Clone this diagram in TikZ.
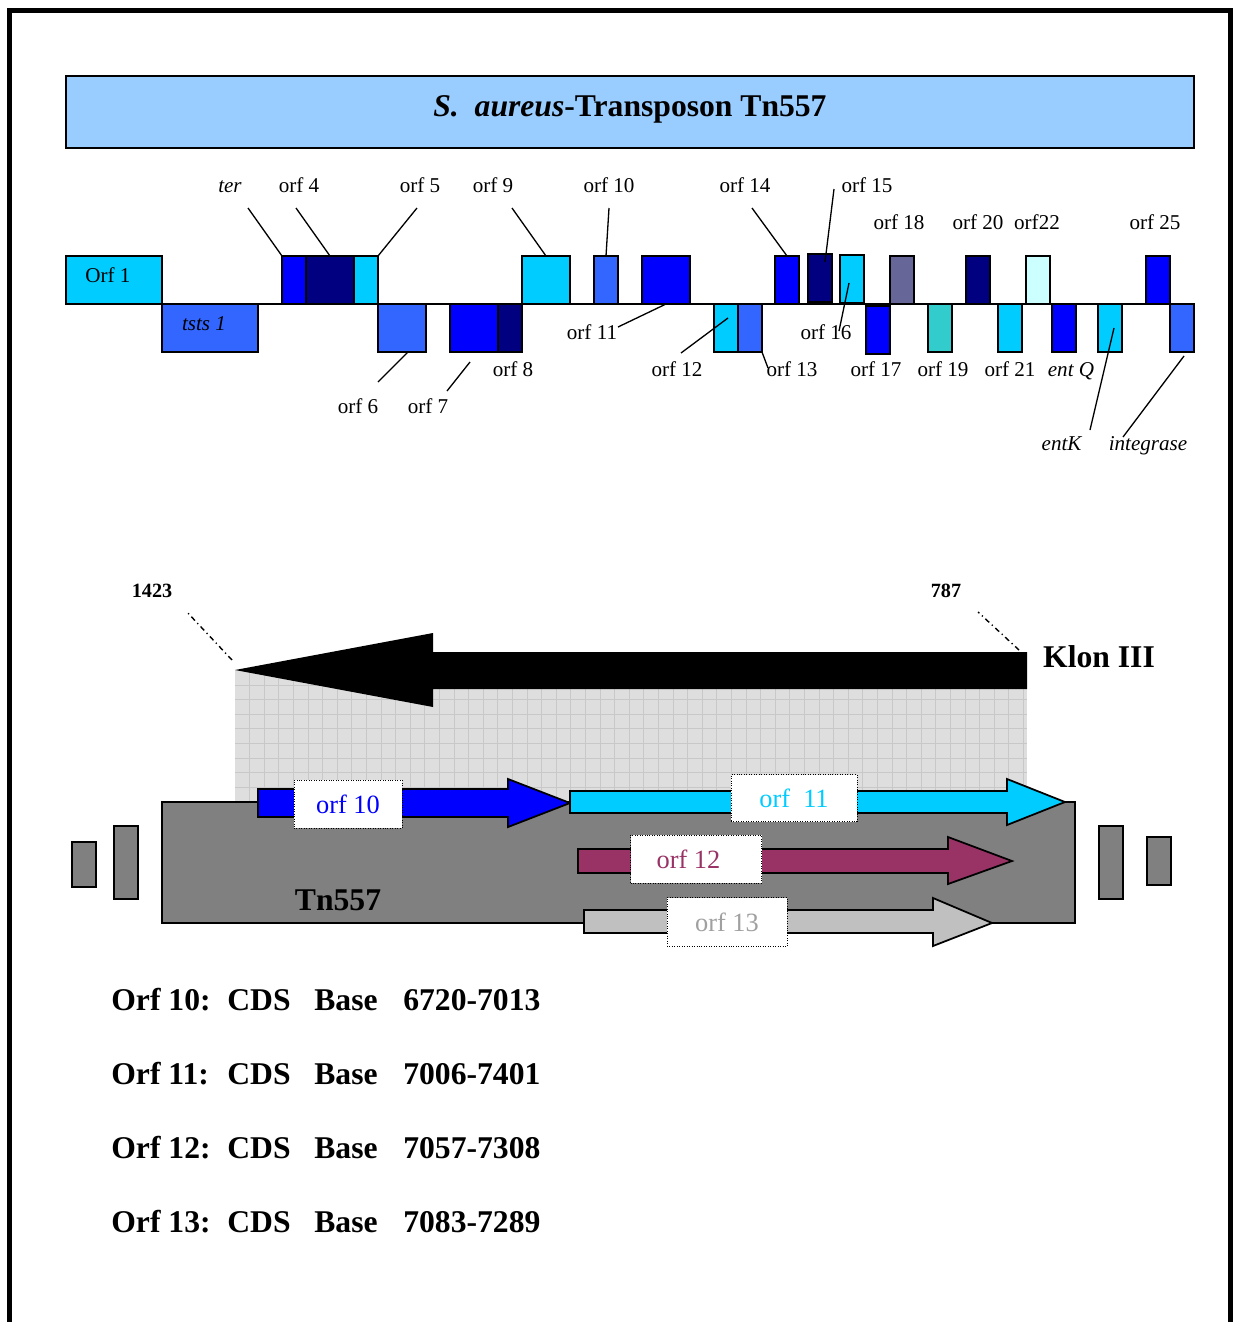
\documentclass[tikz,border=0pt]{standalone}
\usepackage{fontspec}
\setmainfont{Liberation Serif}
\usepackage{tikz}
\usetikzlibrary{positioning, calc}
\definecolor{orfcyan}{HTML}{00CCFF}
\definecolor{orfblue}{HTML}{0000FF}
\definecolor{orfnavy}{HTML}{000080}
\definecolor{orfmid}{HTML}{3366FF}
\definecolor{orfslate}{HTML}{666699}
\definecolor{orfteal}{HTML}{33CCCC}
\definecolor{orfpale}{HTML}{CCFFFF}
\definecolor{orfplum}{HTML}{993366}
\definecolor{orfsilver}{HTML}{C0C0C0}
\definecolor{tagsilver}{HTML}{A0A0A0}
\definecolor{titleblue}{HTML}{99CCFF}
\definecolor{tngray}{HTML}{808080}
\definecolor{gridfill}{HTML}{DEDEDE}
\definecolor{gridline}{HTML}{C8C8C8}
\tikzset{
  gene/.style={rectangle, draw=black, line width=1.1pt, minimum height=9.6mm, inner sep=0pt, outer sep=0pt},
  narrow/.style={minimum width=4.8mm},
  wide/.style={minimum width=9.6mm},
  broad/.style={minimum width=19.2mm},
  leader/.style={line width=0.75pt},
  dotdash/.style={line width=0.8pt, dash pattern=on 3pt off 2pt on 0.7pt off 2pt}
}
\begin{document}
\begin{tikzpicture}[x=0.2mm, y=-0.2mm,
    lbl/.style={font=\fontsize{12}{14}\selectfont, inner sep=0pt, anchor=base},
    bigbold/.style={font=\bfseries\fontsize{18}{21}\selectfont, inner sep=0pt, anchor=base},
    smallbold/.style={font=\bfseries\fontsize{11.5}{13}\selectfont, inner sep=0pt, anchor=base},
    titlebox/.style={rectangle, draw=black, line width=0.8pt, fill=titleblue, minimum width=225.6mm, minimum height=14.4mm, inner sep=0pt},
    tagbox/.style={rectangle, draw=black, densely dotted, line width=0.4pt, fill=white, inner sep=0pt, font=\fontsize{15}{17}\selectfont},
    genearrow/.style={draw=black, line width=1pt, line join=miter},
    sidebox/.style={draw=black, line width=1pt, fill=tngray}
  ]
  \useasboundingbox (0,0) rectangle (1235,1322);

  % Rahmen
  \draw[line width=1mm] (9,1340) -- (9,10) -- (1230,10) -- (1230,1340);

  % Titel
  \node[titlebox] (title) at (630,112) {};
  \node[bigbold] (titletext) at (630,116) {\textit{S.}\ \ \textit{aureus}-Transposon Tn557};

  % Gene oben
  \node[gene, broad, fill=orfcyan] (orf1) at (114,280) {};
  \node[gene, narrow, fill=orfblue] (ter) at (294,280) {};
  \node[gene, wide, fill=orfnavy, right=0pt of ter] (orf4) {};
  \node[gene, narrow, fill=orfcyan, right=0pt of orf4] (orf5) {};
  \node[gene, wide, fill=orfcyan] (orf9) at (546,280) {};
  \node[gene, narrow, fill=orfmid] (orf10) at (606,280) {};
  \node[gene, wide, fill=orfblue] (orf11) at (666,280) {};
  \node[gene, narrow, fill=orfblue] (orf14) at (787,280) {};
  \node[gene, narrow, fill=orfnavy] (orf15) at (820,278) {};
  \node[gene, narrow, fill=orfcyan] (orf16) at (852,279) {};
  \node[gene, narrow, fill=orfslate] (orf18) at (902,280) {};
  \node[gene, narrow, fill=orfnavy] (orf20) at (978,280) {};
  \node[gene, narrow, fill=orfpale] (orf22) at (1038,280) {};
  \node[gene, narrow, fill=orfblue] (orf25) at (1158,280) {};

  % Gene unten
  \node[gene, broad, fill=orfmid] (tsts) at (210,328) {};
  \node[gene, wide, fill=orfmid] (orf6) at (402,328) {};
  \node[gene, wide, fill=orfblue] (orf7) at (474,328) {};
  \node[gene, narrow, fill=orfnavy, right=0pt of orf7] (orf8) {};
  \node[gene, narrow, fill=orfcyan] (orf12) at (726,328) {};
  \node[gene, narrow, fill=orfmid, right=0pt of orf12] (orf13) {};
  \node[gene, narrow, fill=orfblue] (orf17) at (878,330) {};
  \node[gene, narrow, fill=orfteal] (orf19) at (940,328) {};
  \node[gene, narrow, fill=orfcyan] (orf21) at (1010,328) {};
  \node[gene, narrow, fill=orfblue] (entQ) at (1064,328) {};
  \node[gene, narrow, fill=orfcyan] (entK) at (1110,328) {};
  \node[gene, narrow, fill=orfmid] (integ) at (1182,328) {};

  % Achse
  \draw[line width=1pt] (orf1.south west) -- (integ.north east);

  % Beschriftung
  \node[lbl] (orf1txt) at (108,282) {Orf 1};
  \node[lbl] (tststxt) at (204,330) {\textit{tsts 1}};
  \node[lbl] (terlbl) at (230,192) {\textit{ter}};
  \node[lbl] (orf4lbl) at (299,192) {orf 4};
  \node[lbl] (orf5lbl) at (420,192) {orf 5};
  \node[lbl] (orf9lbl) at (493,192) {orf 9};
  \node[lbl] (orf10lbl) at (609,192) {orf 10};
  \node[lbl] (orf14lbl) at (745,192) {orf 14};
  \node[lbl] (orf15lbl) at (867,192) {orf 15};
  \node[lbl] (orf18lbl) at (899,229) {orf 18};
  \node[lbl] (orf20lbl) at (978,229) {orf 20};
  \node[lbl] (orf22lbl) at (1037,229) {orf22};
  \node[lbl] (orf25lbl) at (1155,229) {orf 25};
  \node[lbl] (orf11lbl) at (592,339) {orf 11};
  \node[lbl] (orf16lbl) at (826,339) {orf 16};
  \node[lbl] (orf8lbl) at (513,376) {orf 8};
  \node[lbl] (orf12lbl) at (677,376) {orf 12};
  \node[lbl] (orf13lbl) at (792,376) {orf 13};
  \node[lbl] (orf17lbl) at (876,376) {orf 17};
  \node[lbl] (orf19lbl) at (943,376) {orf 19};
  \node[lbl] (orf21lbl) at (1010,376) {orf 21};
  \node[lbl] (entQlbl) at (1071,376) {\textit{ent Q}};
  \node[lbl] (orf6lbl) at (358,413) {orf 6};
  \node[lbl] (orf7lbl) at (428,413) {orf 7};
  \node[lbl] (entKlbl) at (1062,450) {\textit{entK}};
  \node[lbl] (integlbl) at (1148,450) {\textit{integrase}};

  % Zuordnungslinien
  \draw[leader] (ter.north west) -- ++(-34,-48);
  \draw[leader] (orf4.north) -- ++(-34,-48);
  \draw[leader] (orf5.north east) -- ++(39,-48);
  \draw[leader] (orf9.north) -- ++(-34,-48);
  \draw[leader] (orf10.north) -- ++(3,-48);
  \draw[leader] (orf14.north) -- ++(-35,-48);
  \draw[leader] ($(orf15.north)+(5,8)$) -- ++(9,-73);
  \draw[leader] ($(orf16.center)+(-3,4)$) -- ++(-10,48);
  \draw[leader] ($(orf6.south)+(6,0)$) -- ++(-30,30);
  \draw[leader] ($(orf7.south)+(-4,10)$) -- ++(-23,29);
  \draw[leader] (orf11.south) -- ++(-48,23);
  \draw[leader] ($(orf12.center)+(2,-10)$) -- ++(-47,35);
  \draw[leader] (orf13.south east) -- ++(6,16);
  \draw[leader] ($(entK.center)+(4,0)$) -- ++(-24,102);
  \draw[leader] ($(integ.south)+(2,4)$) -- ++(-61,81);

  % Klon III
  \fill[gridfill] (235,670) rectangle (1027,802);
  \begin{scope}
    \clip (235,670) rectangle (1027,802);
    \foreach \gx in {249.6,264.2,...,1027}
      \draw[gridline, line width=0.5pt] (\gx,670) -- (\gx,802);
    \foreach \gy in {685,699.6,...,802}
      \draw[gridline, line width=0.5pt] (235,\gy) -- (1027,\gy);
  \end{scope}
  \coordinate (klontip) at (235,670);
  \coordinate (klonend) at (1027,652);
  \fill[black] (klontip) -- (433,633) -- (433,652) -- (klonend) -- (1027,689) -- (433,689) -- (433,707) -- cycle;
  \node[smallbold] (n1423) at (152,597) {1423};
  \node[smallbold] (n787) at (946,597) {787};
  \draw[dotdash] ($(klontip)+(-3,-10)$) -- ++(-46,-49);
  \draw[dotdash] ($(klonend)+(-8,-2)$) -- ++(-41,-38);
  \node[bigbold] (klon) at (1099,667) {Klon III};

  % Tn557
  \filldraw[sidebox] (72,842) rectangle (96,887);
  \filldraw[sidebox] (114,826) rectangle (138,899);
  \filldraw[sidebox] (1099,826) rectangle (1123,899);
  \filldraw[sidebox] (1147,837) rectangle (1171,885);
  \filldraw[sidebox] (162,802) rectangle (1075,923);
  \node[bigbold] (tn) at (338,910) {Tn557};

  % Orf-Pfeile
  \filldraw[genearrow, fill=orfblue] (258,789) -- (508,789) -- (508,779) -- (570,803) -- (508,827) -- (508,817) -- (258,817) -- cycle;
  \filldraw[genearrow, fill=orfcyan] (570,791) -- (1007,791) -- (1007,779) -- (1065,802) -- (1007,825) -- (1007,813) -- (570,813) -- cycle;
  \filldraw[genearrow, fill=orfplum] (578,849) -- (948,849) -- (948,837) -- (1012,861) -- (948,884) -- (948,873) -- (578,873) -- cycle;
  \filldraw[genearrow, fill=orfsilver] (584,910) -- (933,910) -- (933,898) -- (992,923) -- (933,946) -- (933,933) -- (584,933) -- cycle;

  \node[tagbox, minimum width=21.6mm, minimum height=9.6mm, text=orfblue] (tag10) at (348,804) {orf 10};
  \node[tagbox, minimum width=25.2mm, minimum height=9.4mm, text=orfcyan] (tag11) at (794,798) {orf\ \ 11};
  \node[tagbox, minimum width=26.2mm, minimum height=9.6mm, text=orfplum] (tag12) at (696,859) {orf 12\hspace*{3mm}};
  \node[tagbox, minimum width=24mm, minimum height=9.8mm, text=tagsilver] (tag13) at (727,922) {orf 13};

  % CDS-Liste
  \foreach \n/\rng [count=\i from 0] in {10/6720-7013, 11/7006-7401, 12/7057-7308, 13/7083-7289} {
    \pgfmathsetmacro{\yb}{1010+74*\i}
    \node[bigbold, anchor=base west] (row\n) at (111,\yb) {Orf \n:};
    \node[bigbold, anchor=base west] (cds\n) at (227,\yb) {CDS};
    \node[bigbold, anchor=base west] (base\n) at (314,\yb) {Base};
    \node[bigbold, anchor=base west] (rng\n) at (403,\yb) {\rng};
  }
\end{tikzpicture}
\end{document}
